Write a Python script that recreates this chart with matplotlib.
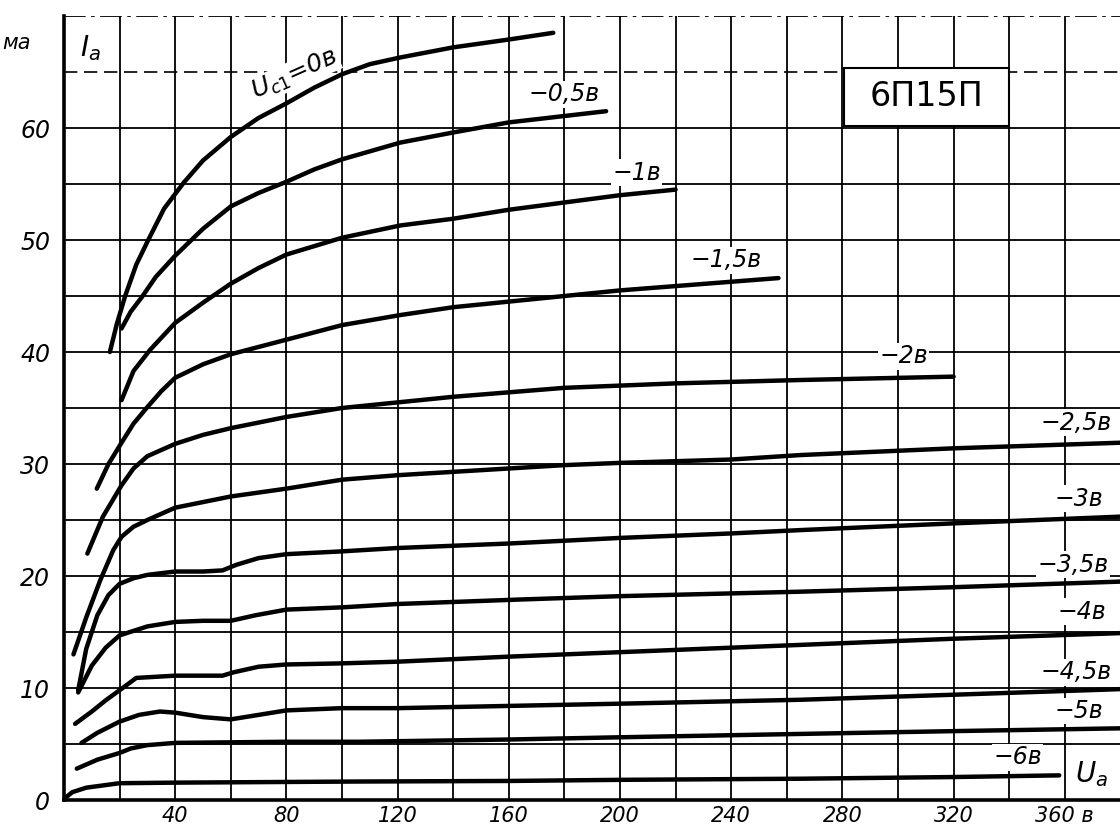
import numpy as np
import matplotlib
matplotlib.use("Agg")
from matplotlib import pyplot as plt
from matplotlib.patches import Rectangle

plt.rcParams['font.family'] = ['DejaVu Sans']

# anode voltage (V) / anode current (mA) for each grid voltage
ua_0 = [16.5, 19, 22, 26, 30.3, 36, 43, 50, 60, 70, 80, 90, 100, 110, 121, 140, 160, 176]
ia_0 = [40, 42.5, 45, 47.8, 50, 52.8, 55.1, 57.1, 59.2, 60.9, 62.2, 63.6, 64.8, 65.7, 66.3, 67.2, 67.9, 68.5]

ua_05 = [20.7, 24, 28, 33, 40, 50, 60, 70, 80, 90, 100, 121, 140, 160, 195]
ia_05 = [42.1, 43.6, 44.9, 46.7, 48.6, 51.0, 53.0, 54.2, 55.2, 56.3, 57.2, 58.7, 59.6, 60.5, 61.5]

ua_1 = [20.7, 25, 31, 40, 50, 60, 70, 80, 100, 121, 140, 160, 200, 220]
ia_1 = [35.7, 38.3, 40.2, 42.6, 44.4, 46.1, 47.5, 48.7, 50.2, 51.3, 51.9, 52.7, 54.0, 54.5]

ua_15 = [11.8, 16, 20.7, 25, 29.7, 35, 40, 50, 60, 80, 100, 121, 140, 160, 200, 257]
ia_15 = [27.8, 30.0, 31.9, 33.6, 35.0, 36.5, 37.7, 38.9, 39.8, 41.1, 42.4, 43.3, 44.0, 44.5, 45.5, 46.6]

ua_2 = [8.4, 14, 20.7, 25, 30, 40, 50, 60, 80, 100, 120, 140, 180, 220, 265, 320]
ia_2 = [22.0, 25.3, 28.1, 29.6, 30.7, 31.8, 32.6, 33.2, 34.2, 35.0, 35.5, 36.0, 36.8, 37.2, 37.5, 37.8]

ua_25 = [3.4, 8, 13, 17.7, 20.7, 25, 30, 40, 50, 60, 80, 100, 120, 180, 200, 240, 265, 320, 380]
ia_25 = [13.0, 16.3, 19.6, 22.3, 23.5, 24.4, 25.0, 26.1, 26.6, 27.1, 27.8, 28.6, 29.0, 29.9, 30.1, 30.4, 30.8, 31.4, 31.9]

ua_3 = [5.1, 8, 12, 16, 20, 25, 30, 40, 50, 57, 62, 70, 80, 100, 120, 160, 200, 240, 265, 320, 380]
ia_3 = [9.8, 13.5, 16.5, 18.3, 19.3, 19.8, 20.1, 20.4, 20.4, 20.5, 21.0, 21.6, 21.95, 22.2, 22.5, 22.9, 23.4, 23.8, 24.1, 24.7, 25.3]

ua_35 = [5.1, 10, 15, 20, 30, 40, 50, 60, 69, 80, 100, 120, 164, 200, 265, 320, 380]
ia_35 = [9.6, 12.0, 13.6, 14.7, 15.5, 15.9, 16.0, 16.0, 16.5, 17.0, 17.2, 17.5, 17.9, 18.2, 18.6, 19.0, 19.5]

ua_4 = [4, 10, 15, 20, 26, 40, 57, 61, 70, 80, 100, 120, 160, 200, 265, 320, 380]
ia_4 = [6.8, 7.9, 8.9, 9.8, 10.9, 11.1, 11.1, 11.4, 11.9, 12.1, 12.2, 12.35, 12.8, 13.2, 13.85, 14.4, 14.9]

ua_45 = [6.3, 12, 20, 27, 34.5, 40, 50, 60, 70, 80, 100, 120, 160, 200, 265, 320, 380]
ia_45 = [5.1, 6.0, 7.0, 7.6, 7.9, 7.8, 7.4, 7.2, 7.6, 8.0, 8.2, 8.2, 8.4, 8.6, 8.95, 9.4, 9.9]

ua_5 = [4.6, 12, 20, 24, 30, 40, 60, 80, 106, 120, 160, 200, 265, 320, 380]
ia_5 = [2.8, 3.6, 4.2, 4.6, 4.9, 5.1, 5.15, 5.2, 5.2, 5.25, 5.4, 5.6, 5.9, 6.15, 6.4]

ua_6 = [0.5, 3, 8, 20, 40, 106, 160, 200, 265, 320, 358]
ia_6 = [0.2, 0.7, 1.1, 1.5, 1.55, 1.65, 1.7, 1.8, 1.9, 2.05, 2.2]

curves = [(ua_0, ia_0), (ua_05, ia_05), (ua_1, ia_1), (ua_15, ia_15), (ua_2, ia_2),
          (ua_25, ia_25), (ua_3, ia_3), (ua_35, ia_35), (ua_4, ia_4),
          (ua_45, ia_45), (ua_5, ia_5), (ua_6, ia_6)]

curve_labels = ["−0,5в", "−1в", "−1,5в", "−2в", "−2,5в", "−3в", "−3,5в",
                "−4в", "−4,5в", "−5в", "−6в"]
label_pos = [(180, 63.0), (206, 56.0), (238, 48.2), (302, 39.6), (364, 33.7),
             (365, 26.9), (363, 21.0), (366, 16.8), (364, 11.4), (365, 7.95), (343, 3.8)]

x_ticks = [40, 80, 120, 160, 200, 240, 280, 320, 360]
x_ticklabels = ["40", "80", "120", "160", "200", "240", "280", "320", "360 в"]
y_ticks = [0, 10, 20, 30, 40, 50, 60]

fig = plt.figure(figsize=(11.2, 8.35), dpi=100)
ax = fig.add_axes([64 / 1120, 35 / 835, 1 - 64 / 1120, 784 / 835])
xmax = (1120 - 64) / 2.78
ax.set_xlim(0, xmax)
ax.set_ylim(0, 70)

# grid
for x in range(20, 361, 20):
    ax.plot([x, x], [0, 70], color='black', lw=1.3, zorder=1)
for y in range(5, 61, 5):
    ax.plot([0, xmax], [y, y], color='black', lw=1.3, zorder=1)
ax.plot([0, xmax], [65, 65], color='black', lw=1.2, ls=(0, (8, 4)), zorder=1)
ax.plot([0, xmax], [70, 70], color='black', lw=1.3, ls=(0, (12, 3, 2, 3)), zorder=1)

for ua, ia in curves:
    ax.plot(ua, ia, color='black', lw=3.2, solid_capstyle='round',
            solid_joinstyle='round', zorder=3)

lab = dict(fontsize=17, style='italic', ha='center', va='center', zorder=4,
           bbox=dict(fc='white', ec='none', pad=1))
for t, (x, y) in zip(curve_labels, label_pos):
    ax.text(x, y, t, **lab)

ax.text(83, 64.8, r'$U_{c1}$=0в', fontsize=18, style='italic', rotation=24,
        ha='center', va='center', zorder=4, bbox=dict(fc='white', ec='none', pad=0.5))
ax.text(9.5, 67.1, r'$I_a$', fontsize=20, ha='center', va='center', zorder=4,
        bbox=dict(fc='white', ec='none', pad=1))
ax.text(-17, 67.6, 'ма', fontsize=15, style='italic', ha='center', va='center',
        clip_on=False)
ax.text(369.5, 2.3, r'$U_a$', fontsize=20, ha='center', va='center', zorder=4,
        bbox=dict(fc='white', ec='none', pad=1))

# tube type box
ax.add_patch(Rectangle((280.5, 60.2), 59.5, 5.2, fc='white', ec='black', lw=1.5, zorder=4))
ax.text(310.3, 62.8, '6П15П', fontsize=24, ha='center', va='center', zorder=5)

ax.set_xticks(x_ticks)
ax.set_xticklabels(x_ticklabels, fontsize=15, style='italic')
ax.set_yticks(y_ticks)
ax.set_yticklabels([str(v) for v in y_ticks], fontsize=17, style='italic')
ax.tick_params(axis='x', length=0, pad=4)
ax.tick_params(axis='y', length=0, pad=10)
for s in ['top', 'right']:
    ax.spines[s].set_visible(False)
for s in ['left', 'bottom']:
    ax.spines[s].set_linewidth(2.6)

fig.savefig('out.png', dpi=100)
